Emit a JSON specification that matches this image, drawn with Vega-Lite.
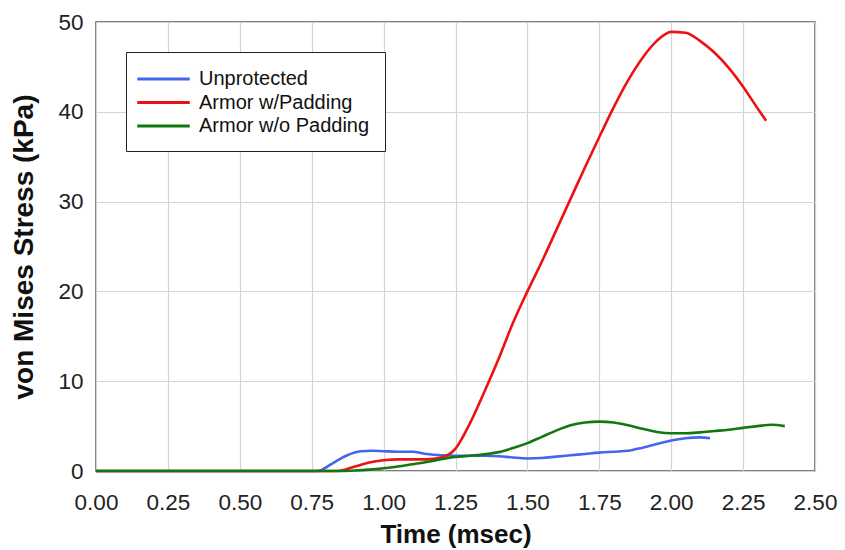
{
  "$schema": "https://vega.github.io/schema/vega-lite/v6.json",
  "autosize": {"type": "none"},
  "padding": {"left": 96, "top": 22, "right": 30, "bottom": 79},
  "width": 719,
  "height": 449,
  "background": "white",
  "config": {
    "font": "Liberation Sans",
    "view": {"stroke": "#555555", "strokeWidth": 1.5},
    "axis": {"gridColor": "#d4d4d4", "gridWidth": 1.2, "domain": false, "ticks": false, "labelColor": "#222222", "titleColor": "#111111"}
  },
  "data": {"values": [
    {"t": 0, "v": 0, "s": "Unprotected"},
    {"t": 0.77, "v": 0, "s": "Unprotected"},
    {"t": 0.82, "v": 0.8, "s": "Unprotected"},
    {"t": 0.87, "v": 1.7, "s": "Unprotected"},
    {"t": 0.92, "v": 2.2, "s": "Unprotected"},
    {"t": 0.96, "v": 2.25, "s": "Unprotected"},
    {"t": 1.0, "v": 2.2, "s": "Unprotected"},
    {"t": 1.05, "v": 2.15, "s": "Unprotected"},
    {"t": 1.1, "v": 2.15, "s": "Unprotected"},
    {"t": 1.15, "v": 1.9, "s": "Unprotected"},
    {"t": 1.2, "v": 1.75, "s": "Unprotected"},
    {"t": 1.25, "v": 1.7, "s": "Unprotected"},
    {"t": 1.3, "v": 1.7, "s": "Unprotected"},
    {"t": 1.35, "v": 1.7, "s": "Unprotected"},
    {"t": 1.4, "v": 1.65, "s": "Unprotected"},
    {"t": 1.45, "v": 1.5, "s": "Unprotected"},
    {"t": 1.5, "v": 1.4, "s": "Unprotected"},
    {"t": 1.55, "v": 1.45, "s": "Unprotected"},
    {"t": 1.6, "v": 1.6, "s": "Unprotected"},
    {"t": 1.65, "v": 1.75, "s": "Unprotected"},
    {"t": 1.7, "v": 1.9, "s": "Unprotected"},
    {"t": 1.75, "v": 2.05, "s": "Unprotected"},
    {"t": 1.8, "v": 2.15, "s": "Unprotected"},
    {"t": 1.85, "v": 2.25, "s": "Unprotected"},
    {"t": 1.9, "v": 2.6, "s": "Unprotected"},
    {"t": 1.95, "v": 3.0, "s": "Unprotected"},
    {"t": 2.0, "v": 3.4, "s": "Unprotected"},
    {"t": 2.05, "v": 3.65, "s": "Unprotected"},
    {"t": 2.1, "v": 3.75, "s": "Unprotected"},
    {"t": 2.135, "v": 3.65, "s": "Unprotected"},

    {"t": 0, "v": 0, "s": "Armor w/Padding"},
    {"t": 0.84, "v": 0, "s": "Armor w/Padding"},
    {"t": 0.9, "v": 0.5, "s": "Armor w/Padding"},
    {"t": 0.95, "v": 0.95, "s": "Armor w/Padding"},
    {"t": 1.0, "v": 1.2, "s": "Armor w/Padding"},
    {"t": 1.05, "v": 1.3, "s": "Armor w/Padding"},
    {"t": 1.1, "v": 1.3, "s": "Armor w/Padding"},
    {"t": 1.15, "v": 1.3, "s": "Armor w/Padding"},
    {"t": 1.2, "v": 1.5, "s": "Armor w/Padding"},
    {"t": 1.25, "v": 2.5, "s": "Armor w/Padding"},
    {"t": 1.3, "v": 5.3, "s": "Armor w/Padding"},
    {"t": 1.35, "v": 8.8, "s": "Armor w/Padding"},
    {"t": 1.4, "v": 12.5, "s": "Armor w/Padding"},
    {"t": 1.45, "v": 16.5, "s": "Armor w/Padding"},
    {"t": 1.5, "v": 20.0, "s": "Armor w/Padding"},
    {"t": 1.55, "v": 23.3, "s": "Armor w/Padding"},
    {"t": 1.6, "v": 26.8, "s": "Armor w/Padding"},
    {"t": 1.65, "v": 30.3, "s": "Armor w/Padding"},
    {"t": 1.7, "v": 33.8, "s": "Armor w/Padding"},
    {"t": 1.75, "v": 37.2, "s": "Armor w/Padding"},
    {"t": 1.8, "v": 40.5, "s": "Armor w/Padding"},
    {"t": 1.85, "v": 43.5, "s": "Armor w/Padding"},
    {"t": 1.9, "v": 46.0, "s": "Armor w/Padding"},
    {"t": 1.95, "v": 47.9, "s": "Armor w/Padding"},
    {"t": 2.0, "v": 48.9, "s": "Armor w/Padding"},
    {"t": 2.05, "v": 48.8, "s": "Armor w/Padding"},
    {"t": 2.1, "v": 47.9, "s": "Armor w/Padding"},
    {"t": 2.15, "v": 46.6, "s": "Armor w/Padding"},
    {"t": 2.2, "v": 44.9, "s": "Armor w/Padding"},
    {"t": 2.25, "v": 42.8, "s": "Armor w/Padding"},
    {"t": 2.3, "v": 40.4, "s": "Armor w/Padding"},
    {"t": 2.33, "v": 39.0, "s": "Armor w/Padding"},

    {"t": 0, "v": 0, "s": "Armor w/o Padding"},
    {"t": 0.85, "v": 0, "s": "Armor w/o Padding"},
    {"t": 0.9, "v": 0.05, "s": "Armor w/o Padding"},
    {"t": 0.95, "v": 0.15, "s": "Armor w/o Padding"},
    {"t": 1.0, "v": 0.3, "s": "Armor w/o Padding"},
    {"t": 1.05, "v": 0.5, "s": "Armor w/o Padding"},
    {"t": 1.1, "v": 0.75, "s": "Armor w/o Padding"},
    {"t": 1.15, "v": 1.0, "s": "Armor w/o Padding"},
    {"t": 1.2, "v": 1.3, "s": "Armor w/o Padding"},
    {"t": 1.25, "v": 1.55, "s": "Armor w/o Padding"},
    {"t": 1.3, "v": 1.7, "s": "Armor w/o Padding"},
    {"t": 1.35, "v": 1.85, "s": "Armor w/o Padding"},
    {"t": 1.4, "v": 2.1, "s": "Armor w/o Padding"},
    {"t": 1.45, "v": 2.55, "s": "Armor w/o Padding"},
    {"t": 1.5, "v": 3.1, "s": "Armor w/o Padding"},
    {"t": 1.55, "v": 3.8, "s": "Armor w/o Padding"},
    {"t": 1.6, "v": 4.5, "s": "Armor w/o Padding"},
    {"t": 1.65, "v": 5.1, "s": "Armor w/o Padding"},
    {"t": 1.7, "v": 5.4, "s": "Armor w/o Padding"},
    {"t": 1.75, "v": 5.5, "s": "Armor w/o Padding"},
    {"t": 1.8, "v": 5.4, "s": "Armor w/o Padding"},
    {"t": 1.85, "v": 5.1, "s": "Armor w/o Padding"},
    {"t": 1.9, "v": 4.7, "s": "Armor w/o Padding"},
    {"t": 1.95, "v": 4.35, "s": "Armor w/o Padding"},
    {"t": 2.0, "v": 4.2, "s": "Armor w/o Padding"},
    {"t": 2.05, "v": 4.2, "s": "Armor w/o Padding"},
    {"t": 2.1, "v": 4.3, "s": "Armor w/o Padding"},
    {"t": 2.15, "v": 4.45, "s": "Armor w/o Padding"},
    {"t": 2.2, "v": 4.6, "s": "Armor w/o Padding"},
    {"t": 2.25, "v": 4.8, "s": "Armor w/o Padding"},
    {"t": 2.3, "v": 5.0, "s": "Armor w/o Padding"},
    {"t": 2.35, "v": 5.15, "s": "Armor w/o Padding"},
    {"t": 2.395, "v": 5.0, "s": "Armor w/o Padding"}
  ]},
  "mark": {"type": "line", "interpolate": "monotone", "strokeWidth": 2.6},
  "encoding": {
    "x": {
      "field": "t", "type": "quantitative",
      "scale": {"domain": [0, 2.5], "nice": false, "zero": false},
      "axis": {"values": [0, 0.25, 0.5, 0.75, 1, 1.25, 1.5, 1.75, 2, 2.25, 2.5], "format": ".2f", "labelFontSize": 22.5, "labelPadding": 20, "labelFlush": false, "title": "Time (msec)", "titleFontSize": 26, "titleFontWeight": "bold", "titlePadding": 8}
    },
    "y": {
      "field": "v", "type": "quantitative",
      "scale": {"domain": [0, 50], "nice": false},
      "axis": {"values": [0, 10, 20, 30, 40, 50], "labelFontSize": 22.5, "labelPadding": 13, "title": "von Mises Stress (kPa)", "titleFontSize": 28, "titleFontWeight": "bold", "titlePadding": 19}
    },
    "color": {
      "field": "s", "type": "nominal",
      "scale": {"domain": ["Unprotected", "Armor w/Padding", "Armor w/o Padding"], "range": ["#4466ee", "#ee1111", "#117711"]},
      "legend": {
        "title": null, "orient": "none", "legendX": 30, "legendY": 30,
        "symbolType": "M-1.5,0H3.5", "symbolSize": 441, "symbolStrokeWidth": 3,
        "labelFontSize": 20, "labelColor": "#111111", "labelOffset": 34, "labelLimit": 300,
        "strokeColor": "#222222", "fillColor": "white", "padding": 15, "rowPadding": 1.5,
        "offset": 0
      }
    }
  }
}
